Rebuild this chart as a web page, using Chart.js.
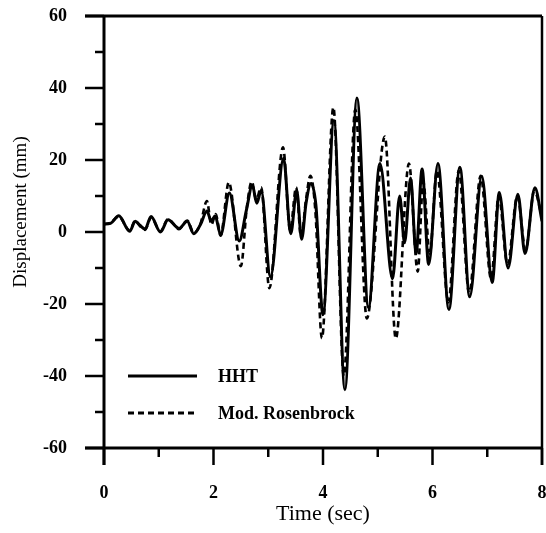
<!DOCTYPE html>
<html>
<head>
<meta charset="utf-8">
<script src="https://cdn.jsdelivr.net/npm/chart.js@4.4.1/dist/chart.umd.min.js"></script>
<style>
  html, body { margin: 0; padding: 0; background: #fff; }
  #wrap { width: 546px; height: 533px; }
</style>
</head>
<body>
<div id="wrap"><canvas id="dispChart" width="546" height="533"></canvas></div>
<script>
// time (s) and displacement (mm) at peaks / troughs
const hhtTime = [0.00, 0.12, 0.27, 0.47, 0.57, 0.66, 0.75, 0.86, 1.03, 1.17, 1.37, 1.52, 1.64, 1.76, 1.88, 1.96, 2.03, 2.13,
    2.29, 2.47, 2.60, 2.71, 2.79, 2.87, 3.04, 3.28, 3.41, 3.52, 3.61, 3.69, 3.78, 3.87, 4.00, 4.20, 4.40, 4.62, 4.83,
    5.04, 5.27, 5.40, 5.49, 5.60, 5.70, 5.81, 5.93, 6.10, 6.30, 6.50, 6.68, 6.90, 7.09, 7.22, 7.38, 7.56, 7.69, 7.87, 8.00];
const hhtDisp = [2.2, 2.4, 4.5, 0.2, 3.0, 1.8, 0.8, 4.3, 0.0, 3.4, 1.0, 3.0, -0.5, 2.0, 5.8, 3.0, 4.5, -0.8,
    10.8, -2.5, 6.0, 13.0, 8.0, 11.5, -12.5, 20.5, -0.5, 11.5, -2.0, 8.0, 13.5, 7.5, -23.0, 31.0, -43.8, 37.2, -21.0,
    19.0, -13.0, 10.0, -3.0, 15.0, -6.0, 17.5, -9.0, 19.0, -21.5, 18.0, -18.0, 15.5, -14.0, 11.0, -10.0, 10.5, -6.0, 12.3, 3.0];

const rosTime = [0.00, 0.12, 0.27, 0.47, 0.57, 0.66, 0.75, 0.86, 1.03, 1.17, 1.37, 1.52, 1.64, 1.76, 1.88, 1.96, 2.04, 2.13,
    2.28, 2.50, 2.61, 2.70, 2.78, 2.87, 3.02, 3.27, 3.40, 3.51, 3.60, 3.69, 3.77, 3.86, 3.98, 4.19, 4.38, 4.59, 4.80,
    5.13, 5.33, 5.57, 5.73, 5.83, 5.95, 6.08, 6.29, 6.48, 6.67, 6.88, 7.07, 7.21, 7.37, 7.55, 7.70, 7.86, 8.00];
const rosDisp = [2.2, 2.6, 4.3, 0.4, 3.2, 1.6, 0.6, 4.0, 0.2, 3.6, 0.8, 3.2, -0.3, 2.2, 8.6, 2.0, 5.0, -1.0,
    13.8, -9.5, 7.0, 14.0, 9.0, 12.4, -15.6, 23.5, 0.5, 12.4, -1.5, 9.0, 15.6, 6.0, -29.5, 34.6, -40.0, 34.0, -24.0,
    26.5, -29.6, 19.0, -11.0, 14.0, -6.0, 17.0, -19.5, 17.0, -17.0, 15.6, -13.0, 10.0, -9.0, 10.0, -5.0, 11.5, 4.0];

const seriesNames = ["HHT", "Mod. Rosenbrock"];
const xTitle = "Time (sec)";
const yTitle = "Displacement (mm)";

const serif = "'Liberation Serif', 'Times New Roman', serif";

function toPoints(ts, vs) {
    return ts.map((t, i) => ({ x: t, y: vs[i] }));
}

// frame, minor/major ticks, legend and axis titles
const decor = {
    id: "decor",
    afterDraw(chart) {
        const ctx = chart.ctx;
        const a = chart.chartArea;
        const xs = chart.scales.x;
        const ys = chart.scales.y;
        ctx.save();
        ctx.strokeStyle = "#000";
        ctx.lineCap = "butt";

        ctx.lineWidth = 3;
        ctx.beginPath();
        ctx.moveTo(a.left - 19, a.top); ctx.lineTo(a.right, a.top);
        ctx.moveTo(a.left, a.top); ctx.lineTo(a.left, a.bottom + 17);
        ctx.moveTo(a.left - 19, a.bottom); ctx.lineTo(a.right + 1, a.bottom);
        ctx.stroke();
        ctx.lineWidth = 2.5;
        ctx.beginPath();
        ctx.moveTo(a.right, a.top); ctx.lineTo(a.right, a.bottom + 17);
        ctx.stroke();

        ctx.lineWidth = 2.5;
        ctx.beginPath();
        for (let t = 0; t <= 8; t++) {
            const px = xs.getPixelForValue(t);
            const len = t % 2 === 0 ? 17 : 9;
            ctx.moveTo(px, a.bottom); ctx.lineTo(px, a.bottom + len);
        }
        for (let v = -60; v <= 60; v += 10) {
            const py = ys.getPixelForValue(v);
            const len = v % 20 === 0 ? 19 : 9;
            ctx.moveTo(a.left, py); ctx.lineTo(a.left - len, py);
        }
        ctx.stroke();

        // legend inside plot
        const rows = [376, 413];
        chart.data.datasets.forEach((ds, i) => {
            ctx.lineWidth = 2.8;
            ctx.setLineDash(ds.borderDash || []);
            ctx.beginPath();
            ctx.moveTo(128, rows[i]); ctx.lineTo(197, rows[i]);
            ctx.stroke();
            ctx.setLineDash([]);
            ctx.fillStyle = "#000";
            ctx.font = "bold 18px " + serif;
            ctx.textAlign = "left";
            ctx.textBaseline = "middle";
            ctx.fillText(ds.label, 218, rows[i] + 1);
        });

        // axis titles
        ctx.font = "22px " + serif;
        ctx.textAlign = "center";
        ctx.textBaseline = "middle";
        ctx.fillText(xTitle, (a.left + a.right) / 2, 514);
        ctx.translate(21, 212);
        ctx.rotate(-Math.PI / 2);
        ctx.font = "19px " + serif;
        ctx.fillText(yTitle, 0, 0);
        ctx.restore();
    }
};

const ctx = document.getElementById("dispChart").getContext("2d");

const dispChart = new Chart(ctx, {
    type: "line",
    data: {
        datasets: [{
            label: seriesNames[0],
            data: toPoints(hhtTime, hhtDisp),
            borderColor: "#000",
            borderWidth: 3,
            pointRadius: 0,
            cubicInterpolationMode: "monotone",
            fill: false
        }, {
            label: seriesNames[1],
            data: toPoints(rosTime, rosDisp),
            borderColor: "#000",
            borderWidth: 2.6,
            borderDash: [6, 4],
            pointRadius: 0,
            cubicInterpolationMode: "monotone",
            fill: false
        }]
    },
    options: {
        responsive: false,
        animation: false,
        layout: { padding: { left: 0, right: 4, top: 16, bottom: 0 } },
        plugins: {
            legend: { display: false },
            tooltip: { enabled: false }
        },
        scales: {
            x: {
                type: "linear",
                min: 0,
                max: 8,
                grid: { display: false, drawTicks: false },
                border: { display: false },
                ticks: {
                    stepSize: 2,
                    padding: 35,
                    color: "#000",
                    font: { family: serif, size: 18, weight: "bold" }
                },
                afterFit(scale) {
                    scale.height = 85;
                    scale.paddingLeft = 0;
                    scale.paddingRight = 0;
                }
            },
            y: {
                min: -60,
                max: 60,
                grid: { display: false, drawTicks: false },
                border: { display: false },
                ticks: {
                    stepSize: 20,
                    padding: 37,
                    color: "#000",
                    font: { family: serif, size: 18, weight: "bold" }
                },
                afterFit(scale) {
                    scale.width = 104;
                    scale.paddingTop = 0;
                    scale.paddingBottom = 0;
                }
            }
        }
    },
    plugins: [decor]
});
</script>
</body>
</html>
